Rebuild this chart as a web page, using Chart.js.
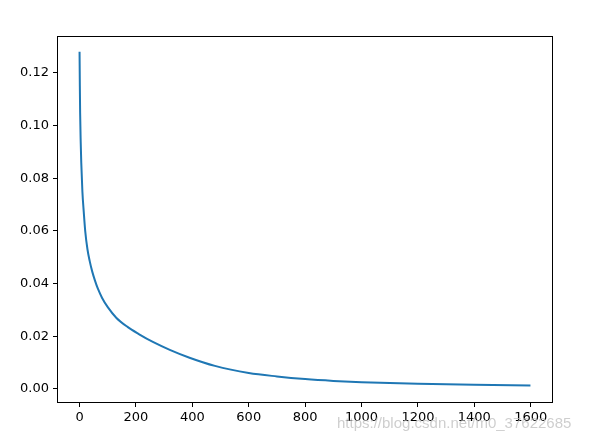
<!DOCTYPE html>
<html>
<head>
<meta charset="utf-8">
<script src="https://cdn.jsdelivr.net/npm/chart.js@4/dist/chart.umd.min.js"></script>
<style>
  html, body { margin: 0; padding: 0; background: #fff; }
  #wrap { position: relative; width: 595px; height: 445px; }
  #mark {
    position: absolute; left: 337px; top: 414px;
    font-family: "Liberation Sans", Arial, sans-serif; font-size: 15px;
    color: rgba(190, 190, 190, 0.75); white-space: nowrap;
  }
</style>
</head>
<body>
<div id="wrap">
  <canvas id="myChart" width="595" height="445"></canvas>
  <div id="mark">https://blog.csdn.net/m0_37622685</div>
</div>
<script>
// loss curve
var xs = [0, 1, 2, 4, 6, 10, 15, 20, 28, 36, 45, 55, 65, 80, 100, 130, 170, 210, 260, 320, 390, 480, 600, 700, 800, 900, 1000, 1200, 1400, 1599];
var ys = [0.128, 0.115, 0.105, 0.094, 0.086, 0.075, 0.067, 0.060, 0.053, 0.0485, 0.0445, 0.041, 0.038, 0.0345, 0.031, 0.027, 0.0235, 0.0208, 0.0178, 0.0148, 0.0118, 0.0087, 0.0060, 0.0047, 0.0037, 0.0030, 0.0025, 0.0019, 0.0015, 0.0012];

var xTicks = [0, 200, 400, 600, 800, 1000, 1200, 1400, 1600];
var yTicks = [0, 0.02, 0.04, 0.06, 0.08, 0.10, 0.12];

var points = [];
for (var i = 0; i < xs.length; i++) {
  points.push({ x: xs[i], y: ys[i] });
}

var font = { family: 'DejaVu Sans', size: 13 };

var boxPlugin = {
  id: 'box',
  afterDraw: function (chart) {
    var a = chart.chartArea;
    var ctx = chart.ctx;
    ctx.save();
    ctx.strokeStyle = '#000';
    ctx.lineWidth = 1;
    ctx.strokeRect(a.left + 0.5, a.top + 0.5, a.right - a.left - 1, a.bottom - a.top - 1);
    ctx.restore();
  }
};

var ctx = document.getElementById('myChart').getContext('2d');
var myChart = new Chart(ctx, {
  type: 'line',
  data: {
    datasets: [{
      data: points,
      borderColor: '#1f77b4',
      borderWidth: 2,
      pointRadius: 0,
      fill: false,
      cubicInterpolationMode: 'monotone'
    }]
  },
  options: {
    responsive: false,
    animation: false,
    layout: { padding: { top: 36, right: 42, left: 0, bottom: 0 } },
    plugins: { legend: { display: false }, tooltip: { enabled: false } },
    scales: {
      x: {
        type: 'linear',
        min: -80,
        max: 1679,
        afterBuildTicks: function (scale) {
          scale.ticks = xTicks.map(function (v) { return { value: v }; });
        },
        afterFit: function (scale) { scale.height = 42; },
        border: { display: false },
        grid: { drawOnChartArea: false, drawTicks: true, tickLength: 4, color: '#000' },
        ticks: {
          color: '#000', font: font, padding: 3, maxRotation: 0,
          callback: function (v) { return String(v); }
        }
      },
      y: {
        type: 'linear',
        min: -0.0054,
        max: 0.134,
        afterBuildTicks: function (scale) {
          scale.ticks = yTicks.map(function (v) { return { value: v }; });
        },
        afterFit: function (scale) { scale.width = 57; },
        border: { display: false },
        grid: { drawOnChartArea: false, drawTicks: true, tickLength: 4, color: '#000' },
        ticks: {
          color: '#000', font: font, padding: 4,
          callback: function (v) { return v.toFixed(2); }
        }
      }
    }
  },
  plugins: [boxPlugin]
});
</script>
</body>
</html>
